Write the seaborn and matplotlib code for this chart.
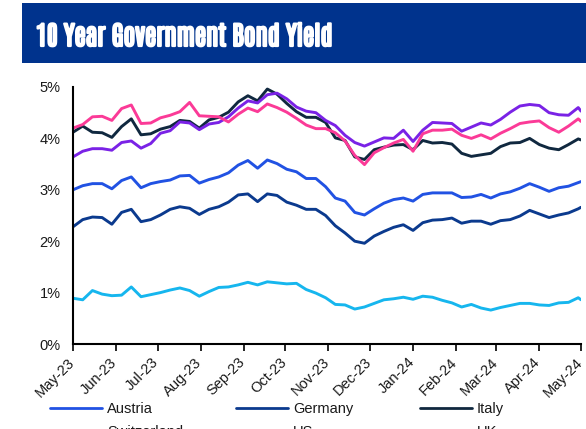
import matplotlib
matplotlib.use("Agg")
import matplotlib.pyplot as plt
from matplotlib.lines import Line2D
from matplotlib.patches import Rectangle
from matplotlib.transforms import ScaledTranslation
from matplotlib import font_manager
from matplotlib.font_manager import FontProperties
import matplotlib.patheffects as pe
import seaborn as sns
import pandas as pd

# ---------------- data (weekly readings, %) ----------------
start_date = "2023-05-01"
end_date = "2024-05-01"

austria = [3.00, 3.08, 3.12, 3.12, 3.02, 3.18, 3.25, 3.04, 3.12, 3.16, 3.19, 3.27, 3.28, 3.13,
           3.20, 3.25, 3.33, 3.48, 3.57, 3.42, 3.58, 3.51, 3.40, 3.35, 3.22, 3.22, 3.06, 2.84,
           2.78, 2.56, 2.51, 2.63, 2.74, 2.81, 2.84, 2.78, 2.91, 2.94, 2.94, 2.94, 2.85, 2.86,
           2.91, 2.84, 2.92, 2.96, 3.03, 3.12, 3.05, 2.97, 3.04, 3.07, 3.14, 3.16]
germany = [2.28, 2.42, 2.47, 2.46, 2.33, 2.56, 2.62, 2.38, 2.42, 2.51, 2.62, 2.67, 2.64, 2.52,
           2.62, 2.67, 2.76, 2.90, 2.92, 2.77, 2.92, 2.89, 2.76, 2.70, 2.62, 2.62, 2.50, 2.30,
           2.16, 2.00, 1.96, 2.10, 2.19, 2.27, 2.32, 2.21, 2.36, 2.41, 2.42, 2.45, 2.35, 2.39,
           2.39, 2.33, 2.40, 2.42, 2.49, 2.60, 2.53, 2.46, 2.51, 2.55, 2.63, 2.66]
italy = [4.12, 4.24, 4.12, 4.11, 4.02, 4.23, 4.38, 4.07, 4.09, 4.18, 4.23, 4.35, 4.33, 4.20,
         4.36, 4.41, 4.51, 4.71, 4.83, 4.73, 4.96, 4.86, 4.68, 4.52, 4.41, 4.41, 4.31, 4.01,
         3.96, 3.64, 3.59, 3.78, 3.83, 3.87, 3.88, 3.78, 3.96, 3.91, 3.92, 3.89, 3.71, 3.65,
         3.68, 3.71, 3.84, 3.91, 3.92, 4.00, 3.88, 3.81, 3.78, 3.88, 3.99, 3.97]
switzerland = [0.89, 0.86, 1.04, 0.97, 0.94, 0.95, 1.11, 0.92, 0.96, 1.00, 1.05, 1.09, 1.04, 0.93,
               1.02, 1.10, 1.11, 1.15, 1.20, 1.15, 1.21, 1.19, 1.17, 1.18, 1.06, 0.99, 0.90, 0.77,
               0.76, 0.68, 0.72, 0.79, 0.86, 0.88, 0.91, 0.87, 0.93, 0.91, 0.85, 0.80, 0.72, 0.77,
               0.70, 0.66, 0.71, 0.75, 0.79, 0.79, 0.76, 0.75, 0.80, 0.81, 0.90, 0.86]
us = [3.64, 3.75, 3.80, 3.80, 3.77, 3.92, 3.95, 3.81, 3.90, 4.10, 4.15, 4.32, 4.30, 4.17,
      4.28, 4.31, 4.42, 4.59, 4.73, 4.69, 4.85, 4.88, 4.77, 4.61, 4.53, 4.50, 4.35, 4.25,
      4.06, 3.92, 3.85, 3.93, 4.01, 4.00, 4.16, 3.94, 4.16, 4.31, 4.30, 4.29, 4.14, 4.22,
      4.30, 4.26, 4.37, 4.51, 4.63, 4.66, 4.64, 4.50, 4.46, 4.45, 4.60, 4.53]
uk = [4.20, 4.27, 4.42, 4.43, 4.35, 4.58, 4.65, 4.29, 4.30, 4.40, 4.45, 4.52, 4.70, 4.44,
      4.43, 4.42, 4.32, 4.47, 4.59, 4.52, 4.67, 4.60, 4.51, 4.39, 4.26, 4.19, 4.19, 4.11,
      3.95, 3.67, 3.49, 3.72, 3.82, 3.91, 3.98, 3.75, 4.09, 4.16, 4.16, 4.18, 4.06, 4.00,
      4.07, 3.99, 4.10, 4.19, 4.29, 4.32, 4.34, 4.21, 4.12, 4.24, 4.38, 4.33]

countries = ["Austria", "Germany", "Italy", "Switzerland", "US", "UK"]
series = [austria, germany, italy, switzerland, us, uk]
colors = ["#2152E3", "#0B3A8E", "#10283F", "#16B6EE", "#7A22E6", "#FB3A97"]
y_ticks = [0, 1, 2, 3, 4, 5]
y_tick_labels = ["0%", "1%", "2%", "3%", "4%", "5%"]
title = "10 Year Government Bond Yield"

# ---------------- build frame ----------------
dates = list(pd.date_range(start_date, periods=53, freq="7D")) + [pd.Timestamp(end_date)]
rows = []
for name, vals in zip(countries, series):
    for d, v in zip(dates, vals):
        rows.append({"date": d, "country": name, "yield": v})
df = pd.DataFrame(rows)

sns.set_theme(style="white")
plt.rcParams["font.family"] = ["Liberation Sans", "DejaVu Sans"]

installed = {f.name for f in font_manager.fontManager.ttflist}
title_family = "DejaVu Sans"
for cand in ["Antonio", "League Gothic", "Saira Extra Condensed", "Saira ExtraCondensed",
             "Oswald", "Fjalla One", "Barlow Condensed", "Roboto Condensed", "Archivo Narrow"]:
    if cand in installed:
        title_family = cand
        break

fig = plt.figure(figsize=(5.86, 4.29), dpi=100)
ax = fig.add_axes([73 / 586, 85 / 429, (581 - 73) / 586, (344 - 87) / 429])

sns.lineplot(data=df, x="date", y="yield", hue="country", hue_order=countries,
             palette=dict(zip(countries, colors)), linewidth=2.1, legend=False, ax=ax)

ax.set_xlim(pd.Timestamp(start_date), pd.Timestamp(end_date))
ax.set_ylim(0, 5)
ax.set_yticks(y_ticks)
ax.set_yticklabels(y_tick_labels)
month_ticks = list(pd.date_range(start_date, end_date, freq="MS"))
ax.set_xticks(month_ticks)
ax.set_xticklabels([d.strftime("%b-%y") for d in month_ticks])
ax.set_xlabel("")
ax.set_ylabel("")
ax.tick_params(axis="x", direction="out", length=5, width=1.2, color="black",
               labelsize=10.5, labelcolor="#1a1a1a", pad=3, bottom=True)
ax.tick_params(axis="y", length=0, labelsize=10.5, labelcolor="#1a1a1a", pad=9)
shift = ScaledTranslation(4 / 100, 0, fig.dpi_scale_trans)
for lab in ax.get_xticklabels():
    lab.set_rotation(45)
    lab.set_ha("right")
    lab.set_va("top")
    lab.set_rotation_mode("default")
    lab.set_transform(lab.get_transform() + shift)
for s in ["top", "right"]:
    ax.spines[s].set_visible(False)
for s in ["left", "bottom"]:
    ax.spines[s].set_color("black")
    ax.spines[s].set_linewidth(1.5)
ax.grid(False)

# ---------------- title banner ----------------
fig.patches.append(Rectangle((22 / 586, 1 - 63 / 429), 1 - 22 / 586, 60 / 429,
                             transform=fig.transFigure, facecolor="#00338D",
                             edgecolor="none", zorder=0))
tprop = FontProperties(family=title_family, weight="bold", size=18)
ttl = fig.text(36 / 586, 1 - 46 / 429, title, color="white", fontproperties=tprop,
               ha="left", va="baseline",
               path_effects=[pe.withStroke(linewidth=1.6, foreground="white")])
fig.canvas.draw()
w = ttl.get_window_extent().width
tprop.set_size(min(28, 18 * 296 / w))
ttl.set_fontproperties(tprop)

# ---------------- legend (three columns) ----------------
handles = [Line2D([], [], color=c, lw=2.0) for c in colors]
col_x = [50, 236, 420]
for i, x0 in enumerate(col_x):
    idx = [i, i + 3]
    leg = fig.legend([handles[j] for j in idx], [countries[j] for j in idx],
                     loc="upper left", bbox_to_anchor=(x0 / 586, 1 - 402 / 429),
                     frameon=False, fontsize=10.5, handlelength=3.56, handletextpad=0.35,
                     borderpad=0, borderaxespad=0, labelspacing=0.64, ncol=1)
    for t in leg.get_texts():
        t.set_color("#1a1a1a")

fig.savefig("out.png", dpi=100)
